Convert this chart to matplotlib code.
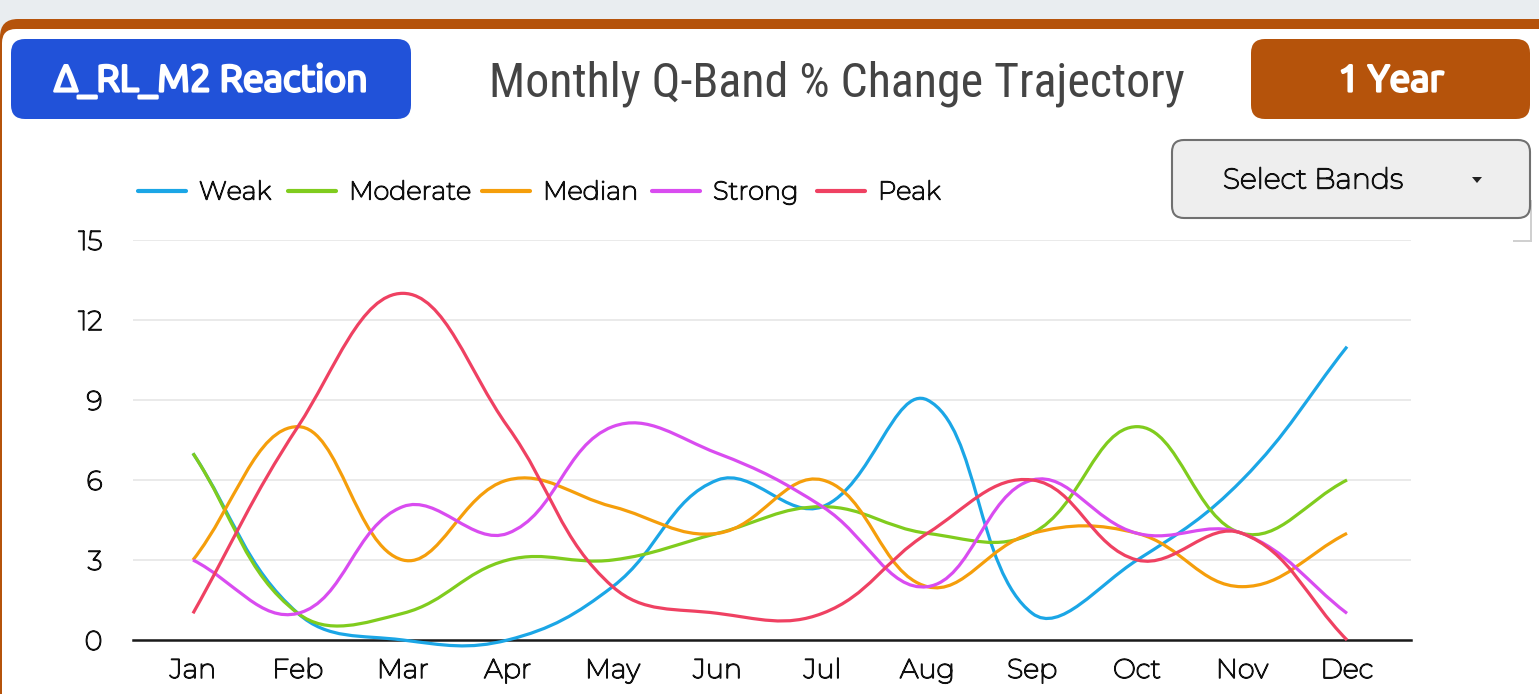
import matplotlib
matplotlib.use("Agg")
import matplotlib.pyplot as plt
from matplotlib.patches import FancyBboxPatch, PathPatch, Rectangle, Polygon
from matplotlib.path import Path
from matplotlib import font_manager
from matplotlib.font_manager import FontProperties
import matplotlib.patheffects as pe
import os
import numpy as np

# ---------------- data ----------------
months = ["Jan", "Feb", "Mar", "Apr", "May", "Jun", "Jul", "Aug", "Sep", "Oct", "Nov", "Dec"]
weak = [7, 1, 0, 0, 2, 6, 5, 9, 1, 3, 6, 11]
moderate = [7, 1, 1, 3, 3, 4, 5, 4, 4, 8, 4, 6]
median = [3, 8, 3, 6, 5, 4, 6, 2, 4, 4, 2, 4]
strong = [3, 1, 5, 4, 8, 7, 5, 2, 6, 4, 4, 1]
peak = [1, 8, 13, 8, 2, 1, 1, 4, 6, 3, 4, 0]
series_names = ["Weak", "Moderate", "Median", "Strong", "Peak"]
series_values = [weak, moderate, median, strong, peak]
colors = ["#1ba6e6", "#80cc1e", "#f59e0b", "#d94cf0", "#ef4162"]
yticks = [0, 3, 6, 9, 12, 15]

title = "Monthly Q-Band % Change Trajectory"
left_button = "\u0394_RL_M2 Reaction"
right_button = "1 Year"
dropdown = "Select Bands"

# ---------------- fonts ----------------
files = {os.path.basename(f.fname): f.fname for f in font_manager.fontManager.ttflist}
have_mont = "Montserrat[wght].ttf" in files
have_ubuntu = "Ubuntu-B.ttf" in files or "Ubuntu-R.ttf" in files


def fp(candidates, fallback_family, size, weight="normal"):
    for c in candidates:
        if c in files:
            return FontProperties(fname=files[c], size=size)
    return FontProperties(family=fallback_family, size=size, weight=weight)


def ui(size):
    return fp(["Montserrat[wght].ttf", "Lato-Regular.ttf"], "DejaVu Sans", size)


UI_TEXT = "#111111"
ui_fx = [pe.withStroke(linewidth=1.0, foreground=UI_TEXT)] if have_mont else []

btn_fp = fp(["Ubuntu-B.ttf", "Ubuntu-R.ttf", "OpenSans-Bold.ttf"], "DejaVu Sans", 27, "bold")
btn_fx = [pe.withStroke(linewidth=1.9, foreground="white")] if have_ubuntu else []
title_fp = fp(["RobotoCondensed-Regular.ttf"], "DejaVu Sans", 34.5)

W, H = 1539, 694
fig = plt.figure(figsize=(W / 100, H / 100), dpi=100)
fig.patch.set_facecolor("#e9edf0")

bg = fig.add_axes([0, 0, 1, 1], zorder=0)
bg.set_xlim(0, W)
bg.set_ylim(H, 0)
bg.axis("off")

ORANGE = "#b5530b"
BLUE = "#2152d9"

# card with orange border
bg.add_patch(FancyBboxPatch((0, 19), W + 40, H + 40,
                            boxstyle="round,pad=0,rounding_size=18",
                            fc=ORANGE, ec="none"))
bg.add_patch(FancyBboxPatch((2, 29), W + 40, H + 40,
                            boxstyle="round,pad=0,rounding_size=14",
                            fc="white", ec="none"))

# blue button
bg.add_patch(FancyBboxPatch((11, 39), 400, 80,
                            boxstyle="round,pad=0,rounding_size=14",
                            fc=BLUE, ec="none"))
bg.text(211, 80, left_button, color="white", fontproperties=btn_fp,
        ha="center", va="center", path_effects=btn_fx)

# orange button
bg.add_patch(FancyBboxPatch((1251, 39), 279, 80,
                            boxstyle="round,pad=0,rounding_size=14",
                            fc=ORANGE, ec="none"))
bg.text(1391, 80, right_button, color="white", fontproperties=btn_fp,
        ha="center", va="center", path_effects=btn_fx)

# title
bg.text(837, 84, title, color="#444444", fontproperties=title_fp,
        ha="center", va="center")

# dropdown hidden-panel shadow + box
bg.add_patch(Rectangle((1513, 200), 19, 42, fc="#bdbdbd", ec="none", alpha=0.7))
bg.add_patch(Rectangle((1511, 198), 19, 42, fc="white", ec="none"))
bg.add_patch(FancyBboxPatch((1172, 140), 358, 78,
                            boxstyle="round,pad=0,rounding_size=12",
                            fc="#eeeeee", ec="#707070", lw=1.5))
bg.text(1313, 181, dropdown, color=UI_TEXT, fontproperties=ui(20.5),
        ha="center", va="center", path_effects=ui_fx)
bg.add_patch(Polygon([[1472, 177], [1482, 177], [1477, 183]], closed=True,
                     fc="#222222", ec="none"))

# legend (chart.js style)
legend_x = [138, 288, 482, 652, 817]
for name, col, lx in zip(series_names, colors, legend_x):
    bg.plot([lx, lx + 48], [191, 191], color=col, lw=3, solid_capstyle="round")
    bg.text(lx + 61, 192, name, color=UI_TEXT, fontproperties=ui(18.5),
            ha="left", va="center", path_effects=ui_fx)

# ---------------- main chart ----------------
ax_l, ax_r, ax_t, ax_b = 133, 1411, 240, 640
ax = fig.add_axes([ax_l / W, 1 - ax_b / H, (ax_r - ax_l) / W, (ax_b - ax_t) / H], zorder=2)
ax.patch.set_alpha(0)
ax.set_xlim(-0.572, 11.61)
ax.set_ylim(0, 15)
for s in ax.spines.values():
    s.set_visible(False)
ax.set_yticks(yticks)
ax.set_xticks(range(len(months)))
ax.set_xticklabels(months)
ax.tick_params(axis="both", length=0, labelcolor=UI_TEXT)
ax.tick_params(axis="y", pad=22)
ax.tick_params(axis="x", pad=13)
for lab in ax.get_xticklabels() + ax.get_yticklabels():
    lab.set_fontproperties(ui(19.5))
    lab.set_path_effects(ui_fx)
ax.grid(axis="y", color="#e6e6e6", lw=1.2)
ax.grid(axis="x", visible=False)
ax.axhline(0, color="#1a1a1a", lw=1.8, zorder=2.5, clip_on=False)


def chartjs_path(ax, xs, ys, t=0.4):
    pts = ax.transData.transform(np.column_stack([xs, ys]))
    n = len(pts)
    cps = []
    for i in range(n):
        prev = pts[i - 1] if i > 0 else pts[i]
        cur = pts[i]
        nxt = pts[i + 1] if i < n - 1 else pts[i]
        d01 = np.hypot(*(cur - prev))
        d12 = np.hypot(*(nxt - cur))
        tot = d01 + d12
        s01 = d01 / tot if tot > 0 else 0
        s12 = d12 / tot if tot > 0 else 0
        cps.append((cur - t * s01 * (nxt - prev), cur + t * s12 * (nxt - prev)))
    verts = [pts[0]]
    codes = [Path.MOVETO]
    for i in range(n - 1):
        verts += [cps[i][1], cps[i + 1][0], pts[i + 1]]
        codes += [Path.CURVE4] * 3
    data_verts = ax.transData.inverted().transform(np.array(verts))
    return Path(data_verts, codes)


xs = np.arange(len(months))
for vals, col in zip(series_values, colors):
    p = chartjs_path(ax, xs, np.array(vals, dtype=float))
    ax.add_patch(PathPatch(p, fill=False, ec=col, lw=2.3, zorder=3,
                           clip_on=False, capstyle="butt", joinstyle="round"))

fig.savefig("out.png", dpi=100)
